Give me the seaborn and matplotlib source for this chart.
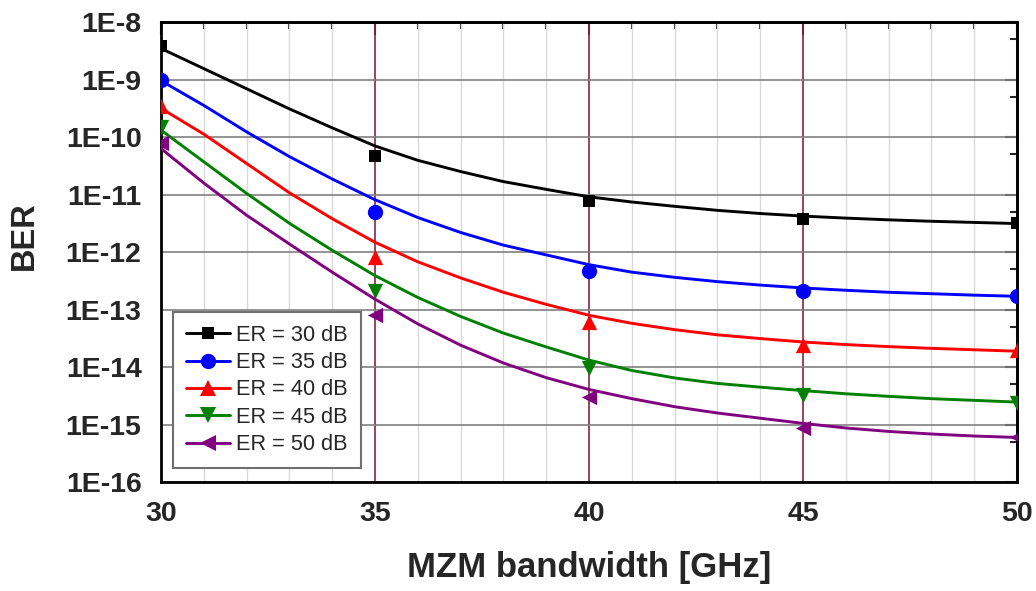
import numpy as np
import pandas as pd
import matplotlib
matplotlib.use("Agg")
import matplotlib.pyplot as plt
import seaborn as sns
from matplotlib.lines import Line2D
from matplotlib.ticker import LogLocator, MultipleLocator, FixedLocator, FuncFormatter, NullFormatter

# measured points (MZM bandwidth in GHz)
bw_points = [30, 35, 40, 45, 50]
ber_30 = [3.8e-9, 4.7e-11, 7.6e-12, 3.8e-12, 3.2e-12]
ber_35 = [1.0e-9, 4.9e-12, 4.6e-13, 2.1e-13, 1.7e-13]
ber_40 = [3.5e-10, 8.3e-13, 6.0e-14, 2.4e-14, 2.0e-14]
ber_45 = [1.5e-10, 2.1e-13, 9.8e-15, 3.3e-15, 2.4e-15]
ber_50 = [7.8e-11, 8.1e-14, 3.0e-15, 8.7e-16, 6.0e-16]

# fitted curves as log10(BER) at every 1 GHz
bw_fit = list(range(30, 51))
fit_30 = [-8.46, -8.81, -9.16, -9.51, -9.84, -10.155, -10.405, -10.60, -10.775, -10.91, -11.04,
          -11.13, -11.205, -11.275, -11.33, -11.375, -11.41, -11.44, -11.465, -11.485, -11.505]
fit_35 = [-9.02, -9.45, -9.91, -10.34, -10.73, -11.09, -11.40, -11.66, -11.88, -12.05, -12.22,
          -12.35, -12.44, -12.515, -12.575, -12.625, -12.665, -12.70, -12.725, -12.75, -12.77]
fit_40 = [-9.50, -9.95, -10.46, -10.97, -11.42, -11.83, -12.17, -12.45, -12.70, -12.91, -13.10,
          -13.24, -13.35, -13.44, -13.505, -13.565, -13.61, -13.645, -13.675, -13.70, -13.725]
fit_45 = [-9.88, -10.43, -10.98, -11.50, -11.97, -12.41, -12.79, -13.12, -13.41, -13.65, -13.88,
          -14.06, -14.19, -14.285, -14.35, -14.41, -14.465, -14.51, -14.55, -14.58, -14.61]
fit_50 = [-10.20, -10.80, -11.36, -11.86, -12.35, -12.82, -13.25, -13.62, -13.93, -14.185, -14.39,
          -14.55, -14.69, -14.80, -14.89, -14.98, -15.06, -15.12, -15.165, -15.20, -15.225]

labels = ["ER = 30 dB", "ER = 35 dB", "ER = 40 dB", "ER = 45 dB", "ER = 50 dB"]
colors = ["#000000", "#0000ff", "#ff0000", "#008000", "#800080"]
markers = ["s", "o", "^", "v", "<"]
msizes = [9, 11, 11, 11, 11]

points = [ber_30, ber_35, ber_40, ber_45, ber_50]
fits = [fit_30, fit_35, fit_40, fit_45, fit_50]

df_fit = pd.concat([pd.DataFrame({"bw": bw_fit, "ber": 10.0 ** np.array(f), "er": lab})
                    for f, lab in zip(fits, labels)])
df_pts = pd.concat([pd.DataFrame({"bw": bw_points, "ber": p, "er": lab})
                    for p, lab in zip(points, labels)])

sns.set_style("white")
plt.rcParams["font.family"] = ["Liberation Sans", "DejaVu Sans"]

fig = plt.figure(figsize=(10.36, 5.91), dpi=100)
ax = fig.add_axes([0.1554, 0.1844, 0.8263, 0.7783])

palette = dict(zip(labels, colors))
sns.lineplot(data=df_fit, x="bw", y="ber", hue="er", palette=palette, linewidth=2.1,
             legend=False, ax=ax, zorder=3)
for lab, mk, ms in zip(labels, markers, msizes):
    sub = df_pts[df_pts["er"] == lab]
    sns.scatterplot(data=sub, x="bw", y="ber", color=palette[lab], marker=mk, s=ms ** 2,
                    linewidth=0, legend=False, ax=ax, zorder=4)

ax.set_yscale("log")
ax.set_xlim(30, 50)
ax.set_ylim(1e-16, 1e-8)

ax.xaxis.set_major_locator(MultipleLocator(5))
ax.xaxis.set_minor_locator(MultipleLocator(1))
ax.yaxis.set_major_locator(FixedLocator([10.0 ** k for k in range(-16, -7)]))
ax.yaxis.set_minor_locator(LogLocator(base=10, subs=[5], numticks=20))
ax.yaxis.set_major_formatter(FuncFormatter(lambda v, p: "1E%d" % round(np.log10(v))))
ax.yaxis.set_minor_formatter(NullFormatter())

ax.set_axisbelow(True)
ax.grid(which="major", axis="y", color="#808080", linewidth=1.2)
ax.grid(which="minor", axis="x", color="#dadada", linewidth=1.0)
ax.grid(which="major", axis="x", color="#8b2346", linewidth=1.2)

ax.tick_params(which="major", direction="out", length=9, width=1.5, labelsize=20.5, pad=5)
ax.tick_params(which="minor", direction="out", length=5, width=1.5)
for t in ax.get_xticklabels() + ax.get_yticklabels():
    t.set_fontweight("bold")
for s in ax.spines.values():
    s.set_linewidth(2)
    s.set_color("black")

# mirrored axes with inward ticks on top and right
top = ax.secondary_xaxis("top")
top.xaxis.set_major_locator(MultipleLocator(5))
top.xaxis.set_minor_locator(MultipleLocator(1))
top.tick_params(which="major", direction="in", length=9, width=1.5, labeltop=False)
top.tick_params(which="minor", direction="in", length=5, width=1.5)
top.spines["top"].set_linewidth(2)

right = ax.secondary_yaxis("right")
right.yaxis.set_major_locator(FixedLocator([10.0 ** k for k in range(-16, -7)]))
right.yaxis.set_minor_locator(LogLocator(base=10, subs=[5], numticks=20))
right.yaxis.set_minor_formatter(NullFormatter())
right.tick_params(which="major", direction="in", length=9, width=1.5, labelright=False)
right.tick_params(which="minor", direction="in", length=5, width=1.5)
right.spines["right"].set_linewidth(2)

ax.set_xlabel("")
ax.set_ylabel("")
fig.text(589 / 1036, 1 - 567 / 591, "MZM bandwidth [GHz]", ha="center", va="center",
         fontsize=25, fontweight="bold")
fig.text(24 / 1036, 1 - 236 / 591, "BER", ha="center", va="center", rotation=90,
         fontsize=23.5, fontweight="bold")

handles = [Line2D([0], [0], color=c, marker=m, markersize=ms, linewidth=2.1, markeredgewidth=0)
           for c, m, ms in zip(colors, markers, msizes)]
leg = ax.legend(handles, labels, loc="lower left", bbox_to_anchor=(0.014, 0.03),
                borderaxespad=0, fontsize=15.7, handlelength=2.0, handletextpad=0.3,
                labelspacing=0.29, borderpad=0.6, fancybox=False, framealpha=1,
                edgecolor="#707070")
leg.get_frame().set_linewidth(1.5)
leg.set_zorder(5)

fig.savefig("out.png", dpi=100)
